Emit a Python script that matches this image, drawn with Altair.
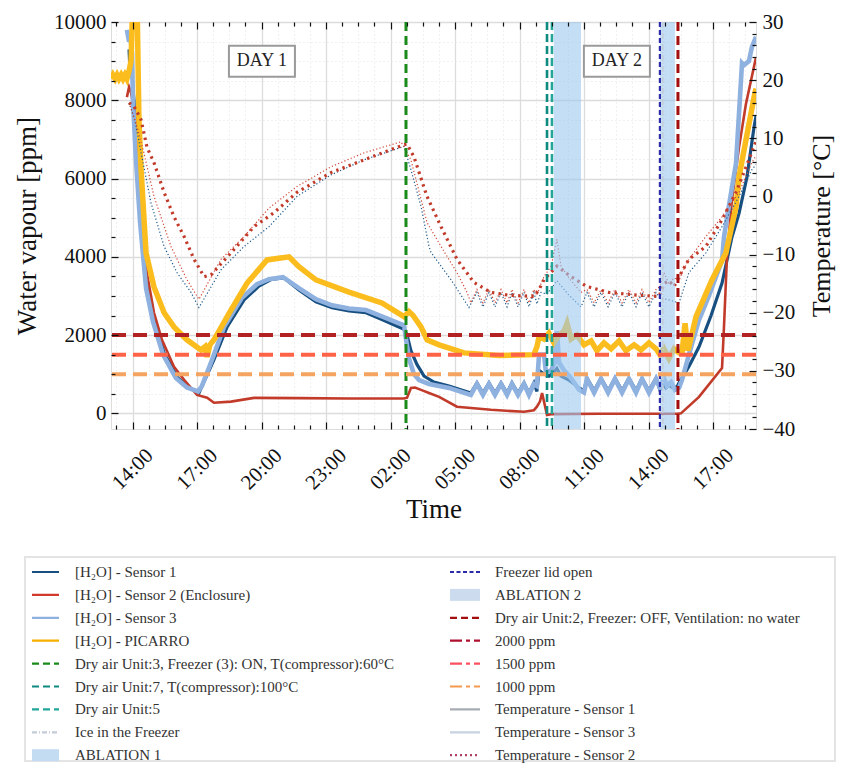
import altair as alt
import pandas as pd

SERIF = "Liberation Serif"
BASE = pd.Timestamp("2023-01-01 13:00:00")

# ---------------- data (hours after 13:00 of day 1, value) ----------------
S1 = [(0.84,9300),(0.88,8800),(0.93,9100),(1.02,8300),(1.07,8000),(1.21,6500),(1.40,4940),(1.67,3230),(2.00,2390),(2.47,1545),(3.07,930),(3.53,680),(4.09,520),(4.79,1370),(5.40,2210),(6.19,2900),(6.88,3250),(7.44,3420),(8.05,3460),(8.74,3150),(9.53,2850),(10.28,2700),(11.07,2620),(11.86,2570),(12.60,2400),(13.63,2150),(13.77,2000),(13.95,1600),(14.23,1250),(14.56,950),(15.02,800),(15.72,700),(16.74,520),(17.02,780),(17.30,520),(17.58,780),(17.86,520),(18.14,780),(18.42,520),(18.65,780),(18.93,520),(19.21,780),(19.44,520),(19.67,780),(19.81,560),(19.91,1100),(20.14,1000),(20.37,950),(20.60,1050),(20.74,1150),(20.93,950),(21.30,850),(21.77,650),(22.00,580),(22.14,900),(22.47,580),(22.79,900),(23.12,580),(23.44,900),(23.77,580),(24.09,900),(24.42,580),(24.70,900),(25.02,580),(25.35,900),(25.53,600),(25.67,750),(25.81,650),(25.95,720),(26.14,650),(26.33,680),(26.42,780),(26.88,1200),(27.35,1700),(27.91,2500),(28.42,3330),(28.88,4500),(29.21,5110),(29.58,6040),(29.91,7320),(30.00,7600)]
S2 = [(0.74,8080),(0.84,8340),(0.93,8200),(1.16,7500),(1.44,4940),(1.67,3590),(2.00,2570),(2.37,1880),(2.93,1190),(3.40,855),(4.00,470),(4.47,400),(4.79,270),(5.58,300),(6.65,395),(8.74,390),(11.07,380),(13.63,380),(13.77,400),(13.95,650),(14.14,660),(14.42,600),(14.79,520),(15.26,420),(16.09,170),(17.67,90),(19.21,40),(19.67,80),(19.81,170),(19.95,300),(20.05,520),(20.14,300),(20.28,-40),(20.47,-20),(22.70,-10),(26.33,-10),(26.51,0),(27.35,420),(28.42,1160),(28.51,2200),(28.65,4000),(28.88,5450),(29.21,6800),(29.53,7900),(30.00,9100)]
S3 = [(0.74,9800),(0.84,9500),(0.88,9700),(0.98,9200),(1.02,8000),(1.16,6500),(1.35,4900),(1.63,3200),(1.95,2350),(2.42,1500),(3.02,900),(3.53,660),(4.05,560),(4.23,700),(4.70,1370),(5.26,2210),(6.09,2950),(6.79,3300),(7.35,3430),(8.00,3480),(8.74,3200),(9.53,2920),(10.28,2760),(11.07,2680),(11.86,2640),(12.60,2480),(13.63,2250),(13.72,1900),(13.86,1400),(14.09,1000),(14.33,850),(14.79,750),(15.72,650),(16.74,470),(17.02,750),(17.30,470),(17.58,750),(17.86,470),(18.14,750),(18.42,470),(18.65,750),(18.93,470),(19.21,750),(19.44,470),(19.67,750),(19.81,700),(19.91,1500),(20.14,1500),(20.23,1050),(20.47,1100),(20.65,1300),(20.74,2100),(20.84,1300),(21.07,1100),(21.40,900),(21.77,600),(22.00,530),(22.14,880),(22.47,530),(22.79,880),(23.12,530),(23.44,880),(23.77,530),(24.09,880),(24.42,530),(24.70,880),(25.02,530),(25.35,880),(25.53,650),(25.72,900),(25.86,700),(26.05,800),(26.23,600),(26.42,650),(26.56,855),(26.88,1500),(27.35,2390),(27.81,3000),(28.14,3490),(28.42,3900),(28.51,4500),(28.74,5300),(29.07,6390),(29.35,8950),(29.44,8900),(29.67,9000),(29.81,9360),(30.00,9620)]
PICARRO = [(0.00,8550),(0.09,8650),(0.19,8550),(0.28,8650),(0.37,8550),(0.47,8650),(0.56,8550),(0.65,8650),(0.74,8550),(0.84,8750),(0.93,9000),(1.02,10600),(1.21,10600),(1.30,7500),(1.40,6220),(1.63,4100),(2.00,3230),(2.47,2570),(2.93,2210),(3.53,1880),(4.19,1620),(4.37,1700),(4.47,1440),(4.60,1750),(4.79,1880),(5.58,2640),(6.33,3330),(7.26,3920),(8.28,4000),(8.74,3750),(9.53,3410),(11.07,3100),(12.60,2820),(13.63,2470),(13.86,2600),(14.05,2500),(14.42,2210),(14.70,1880),(15.26,1750),(16.42,1545),(18.05,1480),(19.67,1500),(19.81,1700),(19.91,1960),(20.14,1900),(20.37,2050),(20.60,1800),(20.84,2000),(21.07,2100),(21.21,2300),(21.40,1900),(21.67,2000),(22.00,1750),(22.33,1850),(22.60,1600),(22.93,1800),(23.26,1650),(23.63,1850),(23.95,1600),(24.33,1750),(24.65,1620),(25.02,1800),(25.35,1650),(25.53,1500),(25.72,1650),(25.95,1400),(26.19,1650),(26.42,1550),(26.56,1545),(26.70,2300),(26.84,1600),(27.21,2470),(27.95,3410),(28.60,4100),(29.07,5280),(29.21,6040),(29.53,6980),(29.91,8080),(30.00,8300)]
TEMP1 = [(0.84,16.1),(1.12,13.0),(1.40,7.5),(1.86,-1.1),(2.47,-8.6),(3.07,-13.1),(3.72,-16.5),(4.09,-19.1),(5.12,-12.6),(6.19,-8.6),(7.35,-5.2),(8.65,0.0),(10.23,3.7),(11.77,6.3),(13.63,8.6),(13.95,4.6),(14.42,-1.7),(14.79,-8.6),(14.88,-9.6),(15.81,-14.3),(16.65,-19.1),(17.02,-16.5),(17.30,-19.0),(17.58,-16.5),(17.86,-19.0),(18.14,-16.5),(18.42,-19.0),(18.65,-16.5),(18.93,-19.0),(19.21,-16.5),(19.44,-19.0),(19.67,-16.5),(19.81,-18.5),(20.00,-16.5),(20.28,-16.8),(20.74,-14.5),(21.30,-17.0),(21.86,-19.0),(22.14,-16.5),(22.47,-19.0),(22.79,-16.5),(23.12,-19.0),(23.44,-16.5),(23.77,-19.0),(24.09,-16.5),(24.42,-19.0),(24.70,-16.5),(25.02,-19.0),(25.35,-16.5),(25.53,-17.5),(25.95,-17.8),(26.42,-18.3),(26.88,-13.1),(27.67,-9.7),(28.42,-5.2),(29.21,0.0),(29.81,4.6),(30.00,5.5)]
TEMP2 = [(0.84,16.1),(1.07,15.5),(1.40,13.2),(1.67,8.5),(2.00,5.8),(2.47,0.7),(2.93,-3.5),(3.40,-6.9),(3.86,-10.8),(4.33,-13.8),(4.65,-13.5),(5.58,-9.7),(6.65,-5.2),(7.58,-2.8),(8.65,0.7),(10.23,4.1),(11.77,6.3),(13.63,8.9),(13.77,9.0),(14.09,6.8),(14.70,0.0),(15.35,-5.2),(16.09,-10.8),(16.88,-14.8),(17.67,-16.5),(18.51,-17.0),(19.67,-17.2),(19.91,-16.0),(20.14,-14.3),(20.74,-12.0),(21.40,-13.8),(22.14,-15.5),(23.16,-16.5),(24.56,-17.0),(25.49,-17.2),(25.72,-15.0),(25.95,-14.5),(26.19,-15.5),(26.42,-13.8),(26.88,-10.8),(27.67,-8.6),(28.42,-4.0),(29.07,0.7),(29.67,6.3),(30.00,9.5)]
TEMP3 = [(0.84,16.1),(1.21,12.0),(1.53,7.5),(2.00,0.0),(2.79,-8.6),(3.53,-14.3),(4.09,-17.7),(5.12,-10.8),(6.19,-6.9),(7.35,-2.0),(8.65,1.7),(10.23,5.1),(11.77,7.5),(13.49,9.4),(13.95,6.3),(14.70,-4.5),(15.35,-8.6),(16.09,-13.1),(16.56,-16.5),(16.74,-18.3),(17.02,-16.0),(17.30,-18.3),(17.58,-16.0),(17.86,-18.3),(18.14,-16.0),(18.42,-18.3),(18.65,-16.0),(18.93,-18.3),(19.21,-16.0),(19.44,-18.3),(19.67,-16.0),(19.81,-17.0),(20.00,-15.0),(20.14,-13.8),(20.47,-12.0),(20.74,-7.4),(20.93,-12.0),(21.40,-14.5),(21.86,-16.5),(22.14,-16.0),(22.47,-18.3),(22.79,-16.0),(23.12,-18.3),(23.44,-16.0),(23.77,-18.3),(24.09,-16.0),(24.42,-18.3),(24.70,-16.0),(25.02,-18.3),(25.35,-16.0),(25.53,-15.5),(25.72,-13.1),(25.95,-15.0),(26.19,-14.0),(26.42,-14.5),(26.56,-13.1),(26.88,-10.8),(27.67,-6.9),(28.42,-3.5),(29.21,0.7),(29.81,5.8),(30.00,7.0)]

EVENT_NAMES = ["Dry air Unit:3, Freezer (3): ON, T(compressor):60°C", "Dry air Unit:7, T(compressor):100°C",
               "Dry air Unit:5", "Ice in the Freezer", "Freezer lid open",
               "Dry air Unit:2, Freezer: OFF, Ventilation: no water"]
EVENT_HOURS = [13.72, 20.28, 20.51, 25.67, 25.53, 26.37]
SPAN_NAMES = ["ABLATION 1", "ABLATION 2"]
SPAN_START = [20.60, 25.53]
SPAN_END = [21.86, 26.23]
THRESH_NAMES = ["2000 ppm", "1500 ppm", "1000 ppm"]
THRESH_VALUES = [2000, 1500, 1000]
DAY_LABELS = ["DAY 1", "DAY 2"]
DAY_HOURS = [7.02, 23.53]
DAY_PPM = [9000, 9000]

# ---------------- helpers ----------------
def iso(h):
    return (BASE + pd.Timedelta(hours=h)).strftime("%Y-%m-%dT%H:%M:%S")

def to_dt(ts):
    return alt.DateTime(year=ts.year, month=ts.month, date=ts.day, hours=ts.hour, minutes=ts.minute)

def pairs_df(pairs):
    return pd.DataFrame({"t": [iso(h) for h, _ in pairs], "v": [v for _, v in pairs]})

X_SCALE = alt.Scale(domain=[to_dt(BASE), to_dt(BASE + pd.Timedelta(hours=30))], nice=False)
PPM_SCALE = alt.Scale(domain=[-400, 10000], nice=False, zero=False)
TEMP_SCALE = alt.Scale(domain=[-40, 30], nice=False, zero=False)

MAJOR_T = [to_dt(BASE + pd.Timedelta(hours=1 + 3 * k)) for k in range(10)]
MINOR_T = [to_dt(BASE + pd.Timedelta(minutes=15 + 45 * k)) for k in range(40)
           if (15 + 45 * k) % 180 != 60 and 15 + 45 * k <= 1800]
PPM_MAJOR = [0, 2000, 4000, 6000, 8000, 10000]
PPM_MINOR = [v for v in range(0, 10001, 500) if v % 2000 != 0]
TEMP_MAJOR = [-40, -30, -20, -10, 0, 10, 20, 30]
TEMP_MINOR = [v for v in range(-40, 31, 2) if v % 10 != 0]

def xenc(field="t", axis=None):
    return alt.X(f"{field}:T", scale=X_SCALE, axis=axis, title=None)

def line(pairs, color, width, dash=None, scale=PPM_SCALE, opacity=1.0):
    mk = dict(color=color, strokeWidth=width, clip=True, opacity=opacity)
    if dash:
        mk["strokeDash"] = dash
    return alt.Chart(pairs_df(pairs)).mark_line(**mk).encode(
        x=xenc(), y=alt.Y("v:Q", scale=scale, axis=None, title=None))

layers = [
    line(S1, "#174f80", 3.2),
    line(S2, "#c23b2a", 2.6),
    line(S3, "#8fb1df", 4.6),
    line(PICARRO, "#fbbd1e", 5.5),
    line(TEMP1, "#1d5a8c", 1.2, [1.2, 2.2], TEMP_SCALE),
    line(TEMP3, "#cf4a3a", 1.2, [1.2, 2.2], TEMP_SCALE),
    line(TEMP2, "#c23b2a", 3.2, [2.4, 4.2], TEMP_SCALE),
]

span_df = pd.DataFrame({"name": SPAN_NAMES, "start": [iso(h) for h in SPAN_START], "end": [iso(h) for h in SPAN_END]})
layers.append(alt.Chart(span_df).mark_rect(color="#9cc8f0", opacity=0.6).encode(
    x=xenc("start"), x2="end:T"))

EVENT_STYLE = [("#1a8a1a", [9, 5], 3), ("#0f8a80", [8, 4], 2.6), ("#23a59a", [8, 4], 2.6),
               ("#c4ccd8", [6, 2, 1, 2], 1.5), ("#2b2ba8", [5, 3], 2.2), ("#a30f0f", [9, 5], 3)]
for name, h, (col, dash, w) in zip(EVENT_NAMES, EVENT_HOURS, EVENT_STYLE):
    d = pd.DataFrame({"name": [name], "t": [iso(h)]})
    layers.append(alt.Chart(d).mark_rule(color=col, strokeDash=dash, strokeWidth=w).encode(x=xenc()))

THRESH_STYLE = ["#b22222", "#ff6347", "#f4a460"]
for name, v, col in zip(THRESH_NAMES, THRESH_VALUES, THRESH_STYLE):
    d = pd.DataFrame({"name": [name], "v": [v]})
    layers.append(alt.Chart(d).mark_rule(color=col, strokeDash=[14, 7], strokeWidth=4).encode(
        y=alt.Y("v:Q", scale=PPM_SCALE, axis=None, title=None)))

day_df = pd.DataFrame({"label": DAY_LABELS, "t": [iso(h) for h in DAY_HOURS], "v": DAY_PPM})
layers.append(alt.Chart(day_df).mark_rect(width=66, height=31, fill="white", stroke="#9a9a9a", strokeWidth=2).encode(
    x=xenc(), y=alt.Y("v:Q", scale=PPM_SCALE, axis=None, title=None)))
layers.append(alt.Chart(day_df).mark_text(font=SERIF, fontSize=18, color="#222").encode(
    x=xenc(), y=alt.Y("v:Q", scale=PPM_SCALE, axis=None, title=None), text="label:N"))

# ---------------- axes (carried by invisible layers) ----------------
carrier_df = pd.DataFrame({"t": [iso(0)], "v": [0]})

def carrier(xaxis, yaxis, yscale):
    return alt.Chart(carrier_df).mark_point(opacity=0, size=1).encode(
        x=xenc(axis=xaxis), y=alt.Y("v:Q", scale=yscale, axis=yaxis, title=None))

def tick_axis(orient, values, size):
    return alt.Axis(orient=orient, values=values, offset=-size, tickSize=size, tickWidth=1.2,
                    tickColor="#111", labels=False, domain=False, grid=False, title=None, zindex=1)

def grid_axis(orient, values, dash, color):
    return alt.Axis(orient=orient, values=values, grid=True, gridColor=color, gridDash=dash, gridWidth=1,
                    labels=False, ticks=False, domain=False, title=None)

x_label_axis = alt.Axis(orient="bottom", values=MAJOR_T, format="%H:%M", labelAngle=-45, labelAlign="center",
                        labelBaseline="middle", labelPadding=40, labelFlush=False, labelOverlap=False,
                        ticks=False, domain=False, grid=True, gridColor="#dcdcdc", gridWidth=1.3,
                        labelFont=SERIF, labelFontSize=21, labelColor="#111",
                        title="Time", titleFont=SERIF, titleFontSize=27, titleFontWeight="normal",
                        titleColor="#111", titlePadding=4)
y_label_axis = alt.Axis(orient="left", values=PPM_MAJOR, format="d", ticks=False, domain=False, grid=True,
                        gridColor="#dcdcdc", gridWidth=1.3, labelFont=SERIF, labelFontSize=21,
                        labelColor="#111", labelPadding=5, labelFlush=False,
                        title="Water vapour [ppm]", titleFont=SERIF, titleFontSize=27,
                        titleFontWeight="normal", titleColor="#111", titlePadding=12)
t_label_axis = alt.Axis(orient="right", values=TEMP_MAJOR, format="d", ticks=False, domain=False, grid=False,
                        labelFont=SERIF, labelFontSize=21, labelColor="#111", labelPadding=6, labelFlush=False,
                        title="Temperature [°C]", titleFont=SERIF, titleFontSize=26, titleFontWeight="normal",
                        titleColor="#111", titlePadding=14, titleAngle=270, titleBaseline="top")

layers += [
    carrier(x_label_axis, y_label_axis, PPM_SCALE),
    carrier(grid_axis("bottom", MINOR_T, [1, 3], "#e2e2e2"), grid_axis("left", PPM_MINOR, [1, 3], "#e2e2e2"), PPM_SCALE),
    carrier(tick_axis("bottom", MAJOR_T, 7), tick_axis("left", PPM_MAJOR, 7), PPM_SCALE),
    carrier(tick_axis("bottom", MINOR_T, 4), tick_axis("left", PPM_MINOR, 4), PPM_SCALE),
    carrier(tick_axis("top", MAJOR_T, 7), t_label_axis, TEMP_SCALE),
    carrier(tick_axis("top", MINOR_T, 4), tick_axis("right", TEMP_MAJOR, 7), TEMP_SCALE),
    carrier(None, tick_axis("right", TEMP_MINOR, 4), TEMP_SCALE),
]

main = alt.layer(*layers).resolve_scale(y="independent").resolve_axis(x="independent", y="independent").properties(
    width=645, height=407)

# ---------------- custom legend panel ----------------
PANEL_X0, PANEL_Y0 = 114, 553      # page position of the legend panel origin
LEG_W, LEG_H = 725, 208
LEG_ITEMS = [
    (0, 0, "[H₂O] - Sensor 1", "line", "#174f80", [1, 0], 2.2),
    (0, 1, "[H₂O] - Sensor 2 (Enclosure)", "line", "#d0392b", [1, 0], 2.2),
    (0, 2, "[H₂O] - Sensor 3", "line", "#8fb1df", [1, 0], 2.2),
    (0, 3, "[H₂O] - PICARRO", "line", "#f5b000", [1, 0], 2.2),
    (0, 4, EVENT_NAMES[0], "line", "#1a8a1a", [7, 4], 2.6),
    (0, 5, EVENT_NAMES[1], "line", "#0f8a80", [7, 4], 2.6),
    (0, 6, EVENT_NAMES[2], "line", "#23a59a", [7, 4], 2.6),
    (0, 7, EVENT_NAMES[3], "line", "#c4ccd8", [5, 2, 1, 2], 1.6),
    (0, 8, SPAN_NAMES[0], "rect", "#c4dcf2", [1, 0], 1),
    (1, 0, EVENT_NAMES[4], "line", "#2b2ba8", [4, 2.5], 2.4),
    (1, 1, SPAN_NAMES[1], "rect", "#ccdcee", [1, 0], 1),
    (1, 2, EVENT_NAMES[5], "line", "#a30f0f", [7, 4], 2.6),
    (1, 3, THRESH_NAMES[0], "line", "#b01030", [12, 4, 4, 4], 4),
    (1, 4, THRESH_NAMES[1], "line", "#ff5060", [12, 4, 4, 4], 4),
    (1, 5, THRESH_NAMES[2], "line", "#f49a50", [12, 4, 4, 4], 4),
    (1, 6, "Temperature - Sensor 1", "line", "#a8adb4", [1, 0], 1),
    (1, 7, "Temperature - Sensor 3", "line", "#c8d2e0", [1, 0], 1.6),
    (1, 8, "Temperature - Sensor 2", "line", "#b04060", [2, 3], 2.6),
]
SYM_X = [(35, 62), (453, 483)]
TXT_X = [78, 498]
ROW_Y0, ROW_DY = 572, 22.9

leg_rows = []
for col, row, label, kind, color, dash, w in LEG_ITEMS:
    yc = ROW_Y0 + ROW_DY * row - PANEL_Y0
    leg_rows.append(dict(label=label, kind=kind, x0=SYM_X[col][0] - PANEL_X0, x1=SYM_X[col][1] - PANEL_X0,
                         tx=TXT_X[col] - PANEL_X0, y=yc, y0=yc - 6, y1=yc + 6))
leg_df = pd.DataFrame(leg_rows)
LX = alt.Scale(domain=[0, LEG_W], nice=False, zero=False)
LY = alt.Scale(domain=[0, LEG_H], nice=False, zero=False, reverse=True)
line_items = [it for it in LEG_ITEMS if it[3] == "line"]
rect_items = [it for it in LEG_ITEMS if it[3] == "rect"]

box_df = pd.DataFrame({"x0": [28 - PANEL_X0], "x1": [838 - PANEL_X0], "y0": [557 - PANEL_Y0], "y1": [LEG_H]})
box = alt.Chart(box_df).mark_rect(fill="white", stroke="#e4e4e4", strokeWidth=2).encode(
    x=alt.X("x0:Q", scale=LX, axis=None), x2="x1:Q", y=alt.Y("y0:Q", scale=LY, axis=None), y2="y1:Q")
leg_lines = alt.Chart(leg_df).transform_filter(alt.datum.kind == "line").mark_rule().encode(
    x=alt.X("x0:Q", scale=LX, axis=None), x2="x1:Q", y=alt.Y("y:Q", scale=LY, axis=None),
    color=alt.Color("label:N", scale=alt.Scale(domain=[i[2] for i in line_items], range=[i[4] for i in line_items]), legend=None),
    strokeDash=alt.StrokeDash("label:N", scale=alt.Scale(domain=[i[2] for i in line_items], range=[i[5] for i in line_items]), legend=None),
    strokeWidth=alt.StrokeWidth("label:N", scale=alt.Scale(domain=[i[2] for i in line_items], range=[i[6] for i in line_items]), legend=None),
)
leg_rects = alt.Chart(leg_df).transform_filter(alt.datum.kind == "rect").mark_rect().encode(
    x=alt.X("x0:Q", scale=LX, axis=None), x2="x1:Q", y=alt.Y("y0:Q", scale=LY, axis=None), y2="y1:Q",
    color=alt.Color("label:N", scale=alt.Scale(domain=[i[2] for i in rect_items], range=[i[4] for i in rect_items]), legend=None),
)
leg_text = alt.Chart(leg_df).mark_text(align="left", baseline="middle", font=SERIF, fontSize=15, color="#333").encode(
    x=alt.X("tx:Q", scale=LX, axis=None), y=alt.Y("y:Q", scale=LY, axis=None), text="label:N")

legend = alt.layer(box, leg_lines, leg_rects, leg_text).resolve_scale(color="independent").properties(
    width=LEG_W, height=LEG_H, view=alt.ViewBackground(strokeOpacity=0))

chart = alt.vconcat(main, legend, spacing=29).properties(
    padding={"left": 13, "top": 10, "right": 0, "bottom": 0}
).configure_view(stroke="#111", strokeWidth=1.5).configure(font=SERIF)

chart.save("out.html", embed_options={"renderer": "svg", "actions": False})
